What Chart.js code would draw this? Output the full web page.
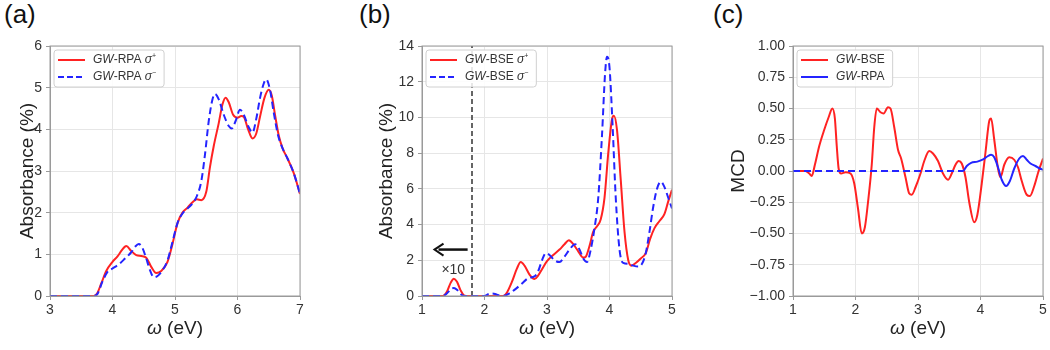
<!DOCTYPE html>
<html>
<head>
<meta charset="utf-8">
<script src="https://cdn.jsdelivr.net/npm/chart.js@4.4.1/dist/chart.umd.min.js"></script>
<style>
  body { margin: 0; background: #fff; width: 1050px; height: 350px; position: relative; overflow: hidden; font-family: "Liberation Sans", Arial, sans-serif; }
  canvas { position: absolute; top: 0; }
  .tag { position: absolute; top: -1px; font-size: 26px; color: #111; }
</style>
</head>
<body>
<div class="tag" style="left:4px">(a)</div>
<div class="tag" style="left:359px">(b)</div>
<div class="tag" style="left:713px">(c)</div>
<canvas id="chartA" width="350" height="350" style="left:0"></canvas>
<canvas id="chartB" width="350" height="350" style="left:350px"></canvas>
<canvas id="chartC" width="350" height="350" style="left:700px"></canvas>
<script>
// (a) GW-RPA absorbance
var rpaPlusX  = [3.0, 3.7, 3.75, 3.82, 3.9, 4.0, 4.08, 4.15, 4.22, 4.3, 4.38, 4.46, 4.54, 4.62, 4.7, 4.78, 4.88, 4.96, 5.04, 5.12, 5.2, 5.28, 5.35, 5.42, 5.5, 5.56, 5.62, 5.7, 5.76, 5.81, 5.86, 5.93, 6.0, 6.06, 6.1, 6.17, 6.24, 6.3, 6.36, 6.43, 6.5, 6.55, 6.6, 6.66, 6.72, 6.8, 6.9, 7.0];
var rpaPlusY  = [0, 0, 0.05, 0.3, 0.6, 0.82, 0.95, 1.1, 1.2, 1.08, 0.98, 0.96, 0.92, 0.7, 0.55, 0.6, 0.82, 1.25, 1.75, 2.0, 2.12, 2.25, 2.32, 2.3, 2.5, 3.1, 3.6, 4.15, 4.6, 4.76, 4.65, 4.35, 4.28, 4.32, 4.3, 4.0, 3.78, 3.9, 4.3, 4.75, 4.95, 4.8, 4.35, 3.85, 3.55, 3.3, 2.95, 2.45];
var rpaMinusX = [3.0, 3.7, 3.76, 3.84, 3.92, 4.0, 4.1, 4.2, 4.3, 4.36, 4.42, 4.48, 4.54, 4.6, 4.66, 4.72, 4.8, 4.88, 4.96, 5.04, 5.12, 5.2, 5.28, 5.35, 5.42, 5.48, 5.54, 5.6, 5.64, 5.7, 5.78, 5.86, 5.91, 5.97, 6.04, 6.1, 6.18, 6.24, 6.3, 6.36, 6.42, 6.46, 6.52, 6.58, 6.65, 6.72, 6.8, 6.9, 7.0];
var rpaMinusY = [0, 0, 0.05, 0.35, 0.58, 0.66, 0.76, 0.9, 1.05, 1.18, 1.25, 1.15, 0.9, 0.62, 0.45, 0.48, 0.62, 0.85, 1.3, 1.75, 1.98, 2.1, 2.22, 2.4, 2.75, 3.4, 4.2, 4.72, 4.85, 4.72, 4.35, 4.08, 4.02, 4.2, 4.47, 4.35, 4.05, 3.92, 4.25, 4.75, 5.1, 5.2, 4.95, 4.4, 3.85, 3.55, 3.3, 2.95, 2.45];

// (b) GW-BSE absorbance
var bsePlusX  = [1.0, 1.33, 1.4, 1.46, 1.51, 1.56, 1.62, 1.68, 1.75, 2.3, 2.36, 2.44, 2.52, 2.58, 2.64, 2.72, 2.8, 2.86, 2.92, 3.0, 3.1, 3.2, 3.28, 3.35, 3.42, 3.5, 3.58, 3.62, 3.68, 3.74, 3.8, 3.86, 3.92, 3.98, 4.04, 4.07, 4.12, 4.18, 4.24, 4.3, 4.35, 4.42, 4.5, 4.58, 4.65, 4.72, 4.8, 4.88, 4.94, 5.0];
var bsePlusY  = [0, 0, 0.25, 0.75, 0.97, 0.8, 0.3, 0.02, 0, 0, 0.2, 0.8, 1.55, 1.9, 1.7, 1.2, 0.95, 1.15, 1.5, 1.95, 2.3, 2.6, 2.9, 3.12, 2.9, 2.5, 2.15, 2.2, 2.8, 3.6, 3.9, 4.3, 5.5, 8.0, 9.9, 10.1, 9.3, 6.5, 3.6, 2.0, 1.7, 1.85, 2.1, 2.4, 3.2, 3.8, 4.2, 4.6, 5.3, 5.95];
var bseMinusX = [1.0, 1.33, 1.4, 1.47, 1.51, 1.56, 1.62, 1.68, 2.0, 2.06, 2.12, 2.18, 2.24, 2.3, 2.4, 2.5, 2.6, 2.7, 2.8, 2.86, 2.92, 2.98, 3.04, 3.12, 3.2, 3.28, 3.36, 3.45, 3.52, 3.58, 3.64, 3.7, 3.76, 3.82, 3.88, 3.93, 3.96, 4.0, 4.05, 4.1, 4.16, 4.22, 4.3, 4.38, 4.46, 4.52, 4.58, 4.64, 4.7, 4.76, 4.82, 4.88, 4.94, 5.0];
var bseMinusY = [0, 0, 0.15, 0.4, 0.45, 0.35, 0.1, 0, 0, 0.1, 0.14, 0.1, 0.03, 0, 0.15, 0.4, 0.7, 1.0, 1.1, 1.4, 2.0, 2.4, 2.3, 2.0, 1.9, 2.2, 2.6, 2.9, 2.6, 2.1, 1.9, 2.6, 3.8, 5.5, 9.0, 12.5, 13.4, 12.8, 9.5, 5.5, 2.6, 1.85, 1.8, 1.7, 1.65, 1.8, 2.4, 3.6, 5.0, 6.0, 6.4, 6.1, 5.5, 4.9];
var scaleCut = 1.8;   // left of this the curves are x10

// (c) MCD
var mcdBseX = [1.0, 1.2, 1.26, 1.3, 1.35, 1.42, 1.5, 1.57, 1.63, 1.67, 1.7, 1.73, 1.77, 1.84, 1.92, 1.98, 2.04, 2.1, 2.15, 2.2, 2.26, 2.3, 2.34, 2.4, 2.45, 2.52, 2.56, 2.62, 2.68, 2.73, 2.8, 2.86, 2.9, 2.96, 3.04, 3.1, 3.18, 3.24, 3.32, 3.4, 3.48, 3.54, 3.6, 3.65, 3.7, 3.76, 3.82, 3.9, 3.95, 4.02, 4.08, 4.14, 4.17, 4.22, 4.28, 4.32, 4.38, 4.46, 4.54, 4.6, 4.66, 4.74, 4.79, 4.86, 4.93, 5.0];
var mcdBseY = [0, 0, -0.02, -0.04, 0.05, 0.2, 0.33, 0.43, 0.5, 0.42, 0.2, 0.02, -0.02, -0.01, -0.02, -0.1, -0.3, -0.5, -0.45, -0.25, 0.05, 0.35, 0.5, 0.47, 0.46, 0.51, 0.5, 0.35, 0.17, 0.1, -0.05, -0.18, -0.19, -0.13, -0.02, 0.08, 0.16, 0.14, 0.08, -0.02, -0.07, -0.02, 0.05, 0.08, 0.06, -0.05, -0.25, -0.41, -0.35, -0.1, 0.15, 0.4, 0.42, 0.25, 0.02, -0.05, 0.05, 0.11, 0.09, 0.03, -0.08, -0.19, -0.2, -0.12, 0.0, 0.1];
var mcdRpaX = [1.0, 3.72, 3.78, 3.85, 3.95, 4.05, 4.12, 4.17, 4.22, 4.28, 4.34, 4.41, 4.47, 4.54, 4.62, 4.68, 4.74, 4.8, 4.88, 4.95, 5.0];
var mcdRpaY = [0, 0, 0.04, 0.065, 0.075, 0.095, 0.12, 0.13, 0.11, 0.03, -0.07, -0.12, -0.08, 0.02, 0.1, 0.12, 0.09, 0.06, 0.04, 0.02, 0.01];
var mcdFlatEnd = 3.72;

var RED = '#ff2222';
var BLUE = '#2424ff';
var FONT = '"Liberation Sans", Arial, sans-serif';
Chart.defaults.font.family = FONT;

function pts(xs, ys) {
    return xs.map(function (x, i) { return { x: x, y: ys[i] }; });
}

function curve(label, xs, ys, color, dash, order) {
    return {
        label: label,
        data: pts(xs, ys),
        borderColor: color,
        borderWidth: 2,
        borderDash: dash || [],
        pointRadius: 0,
        fill: false,
        cubicInterpolationMode: 'monotone',
        order: order
    };
}

function partFont(p, size) {
    var s = p[1] === 's' ? Math.round(size * 0.62) : size;
    return (p[1] === 'i' ? 'italic ' : '') + s + 'px ' + FONT;
}

function richWidth(ctx, parts, size) {
    var w = 0;
    parts.forEach(function (p) {
        ctx.font = partFont(p, size);
        w += ctx.measureText(p[0]).width;
    });
    return w;
}

function drawRich(ctx, parts, x, y, size, center) {
    var cx = center ? x - richWidth(ctx, parts, size) / 2 : x;
    ctx.textAlign = 'left';
    ctx.textBaseline = 'middle';
    parts.forEach(function (p) {
        ctx.font = partFont(p, size);
        ctx.fillText(p[0], cx, p[1] === 's' ? y - size * 0.33 : y);
        cx += ctx.measureText(p[0]).width;
    });
}

// box, legend and x title
function decor(items) {
    return {
        id: 'decor',
        afterDraw: function (chart) {
            var ctx = chart.ctx, a = chart.chartArea;
            ctx.save();
            ctx.strokeStyle = '#9a9a9a';
            ctx.lineWidth = 1;
            ctx.strokeRect(a.left, a.top, a.right - a.left, a.bottom - a.top);

            var tw = 0;
            items.forEach(function (it) { tw = Math.max(tw, richWidth(ctx, it.parts, 12)); });
            var bx = a.left + 4, by = a.top + 4, bw = tw + 47, bh = 37;
            ctx.fillStyle = 'rgba(255,255,255,0.85)';
            ctx.strokeStyle = '#d0d0d0';
            ctx.beginPath();
            ctx.roundRect(bx, by, bw, bh, 3);
            ctx.fill();
            ctx.stroke();
            items.forEach(function (it, i) {
                var ry = a.top + 14 + i * 17;
                ctx.strokeStyle = it.color;
                ctx.lineWidth = 2;
                ctx.setLineDash(it.dash || []);
                ctx.beginPath();
                ctx.moveTo(a.left + 8, ry);
                ctx.lineTo(a.left + 35, ry);
                ctx.stroke();
                ctx.setLineDash([]);
                ctx.fillStyle = '#333';
                drawRich(ctx, it.parts, a.left + 43, ry, 12, false);
            });

            ctx.fillStyle = '#222';
            drawRich(ctx, [['ω', 'i'], [' (eV)', '']], (a.left + a.right) / 2, 329, 19, true);
            ctx.restore();
        }
    };
}

// arrow and x10 note in (b)
var arrowFromX = 1.73, arrowToX = 1.2, arrowY = 2.6;
var noteX = 1.5, noteY = 1.45;
var arrowNote = {
    id: 'arrowNote',
    afterDatasetsDraw: function (chart) {
        var ctx = chart.ctx, sx = chart.scales.x, sy = chart.scales.y;
        var x0 = sx.getPixelForValue(arrowFromX), x1 = sx.getPixelForValue(arrowToX), y = sy.getPixelForValue(arrowY);
        ctx.save();
        ctx.strokeStyle = '#111';
        ctx.fillStyle = '#111';
        ctx.lineWidth = 2.5;
        ctx.beginPath();
        ctx.moveTo(x0, y);
        ctx.lineTo(x1 + 4, y);
        ctx.stroke();
        ctx.lineWidth = 2;
        ctx.beginPath();
        ctx.moveTo(x1 + 9, y - 6);
        ctx.lineTo(x1, y);
        ctx.lineTo(x1 + 9, y + 6);
        ctx.stroke();
        ctx.fillStyle = '#333';
        ctx.font = '14px ' + FONT;
        ctx.textAlign = 'center';
        ctx.textBaseline = 'middle';
        ctx.fillText('×10', sx.getPixelForValue(noteX), sy.getPixelForValue(noteY));
        ctx.restore();
    }
};

function makeChart(id, datasets, cfg) {
    var tickFont = { size: 14 };
    return new Chart(document.getElementById(id).getContext('2d'), {
        type: 'line',
        data: { datasets: datasets },
        options: {
            responsive: false,
            animation: false,
            devicePixelRatio: 1,
            layout: { padding: { top: 46, right: cfg.right, bottom: 0, left: 0 } },
            plugins: { legend: { display: false }, tooltip: { enabled: false } },
            scales: {
                x: {
                    type: 'linear',
                    min: cfg.xMin, max: cfg.xMax,
                    afterFit: function (s) { s.height = 54; },
                    ticks: { stepSize: 1, color: '#333', font: tickFont, padding: 2, maxRotation: 0 },
                    grid: { color: '#e6e6e6', tickColor: '#9a9a9a', tickLength: 4 },
                    border: { color: '#9a9a9a' }
                },
                y: {
                    min: cfg.yMin, max: cfg.yMax,
                    afterFit: function (s) { s.width = cfg.left; },
                    ticks: { stepSize: cfg.yStep, color: '#333', font: tickFont, padding: 4, callback: cfg.yFmt },
                    grid: { color: '#e6e6e6', tickColor: '#9a9a9a', tickLength: 4 },
                    border: { color: '#9a9a9a' },
                    title: { display: true, text: cfg.yTitle, color: '#222', font: { size: 19 }, padding: { top: cfg.titlePad, bottom: 0 } }
                }
            }
        },
        plugins: [decor(cfg.legend)].concat(cfg.extra || [])
    });
}

makeChart('chartA', [
    curve('GW-RPA σ−', rpaMinusX, rpaMinusY, BLUE, [7, 4], 0),
    curve('GW-RPA σ+', rpaPlusX, rpaPlusY, RED, [], 1)
], {
    xMin: 3, xMax: 7, yMin: 0, yMax: 6, yStep: 1, left: 50, right: 50, titlePad: 16,
    yTitle: 'Absorbance (%)',
    legend: [
        { color: RED, parts: [['GW', 'i'], ['-RPA ', ''], ['σ', 'i'], ['+', 's']] },
        { color: BLUE, dash: [6, 3], parts: [['GW', 'i'], ['-RPA ', ''], ['σ', 'i'], ['−', 's']] }
    ]
});

makeChart('chartB', [
    curve('GW-BSE σ−', bseMinusX, bseMinusY, BLUE, [7, 4], 0),
    curve('GW-BSE σ+', bsePlusX, bsePlusY, RED, [], 1),
    {
        label: 'cut', data: pts([scaleCut, scaleCut], [0, 14]), borderColor: '#333', borderWidth: 1.5,
        borderDash: [5, 3], pointRadius: 0, order: 2
    }
], {
    xMin: 1, xMax: 5, yMin: 0, yMax: 14, yStep: 2, left: 72, right: 28, titlePad: 25,
    yTitle: 'Absorbance (%)',
    legend: [
        { color: RED, parts: [['GW', 'i'], ['-BSE ', ''], ['σ', 'i'], ['+', 's']] },
        { color: BLUE, dash: [6, 3], parts: [['GW', 'i'], ['-BSE ', ''], ['σ', 'i'], ['−', 's']] }
    ],
    extra: [arrowNote]
});

var rpaMcd = curve('GW-RPA', mcdRpaX, mcdRpaY, BLUE, [], 0);
rpaMcd.segment = {
    borderDash: function (c) { return c.p1.parsed.x <= mcdFlatEnd ? [7, 4] : undefined; }
};

makeChart('chartC', [
    rpaMcd,
    curve('GW-BSE', mcdBseX, mcdBseY, RED, [], 1)
], {
    xMin: 1, xMax: 5, yMin: -1, yMax: 1, yStep: 0.25, left: 93, right: 7, titlePad: 27,
    yTitle: 'MCD',
    yFmt: function (v) { return (v < 0 ? '−' : '') + Math.abs(v).toFixed(2); },
    legend: [
        { color: RED, parts: [['GW', 'i'], ['-BSE', '']] },
        { color: BLUE, parts: [['GW', 'i'], ['-RPA', '']] }
    ]
});
</script>
</body>
</html>
